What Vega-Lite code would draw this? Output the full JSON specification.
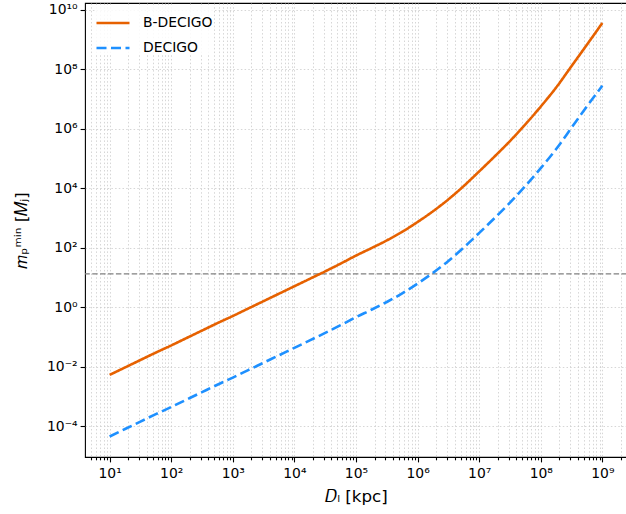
{
  "$schema": "https://vega.github.io/schema/vega-lite/v6.json",
  "width": 542,
  "height": 454,
  "autosize": "none",
  "padding": {"left": 85, "top": 3, "right": 0, "bottom": 57},
  "background": "white",
  "config": {
    "font": "DejaVu Sans",
    "view": {"stroke": "black", "strokeWidth": 1.1},
    "axis": {
      "domain": false,
      "labelFont": "DejaVu Sans",
      "labelFontSize": 13.9,
      "labelColor": "black",
      "titleFont": "DejaVu Sans",
      "titleFontSize": 16.7,
      "titleFontWeight": "normal",
      "titleColor": "black",
      "tickColor": "black",
      "tickWidth": 1.1,
      "gridColor": "#cbcbcb",
      "gridDash": [1.5, 2.2],
      "gridWidth": 0.8,
      "labelOverlap": false,
      "labelFlush": false
    },
    "legend": {
      "labelFont": "DejaVu Sans",
      "labelFontSize": 13.9,
      "labelColor": "black"
    }
  },
  "layer": [
    {
      "data": {"values": [{"threshold": 13}]},
      "mark": {"type": "rule", "color": "#808080", "strokeWidth": 1.2, "strokeDash": [5.5, 2.4]},
      "encoding": {
        "y": {"field": "threshold", "type": "quantitative", "scale": {"type": "log", "domain": [9.12e-6, 1.66e10]}}
      }
    },
    {
      "data": {
        "values": [
          {"series": "B-DECIGO", "D": 10, "m": 0.005248},
          {"series": "B-DECIGO", "D": 17.783, "m": 0.009333},
          {"series": "B-DECIGO", "D": 31.623, "m": 0.016596},
          {"series": "B-DECIGO", "D": 56.234, "m": 0.029512},
          {"series": "B-DECIGO", "D": 100, "m": 0.051286},
          {"series": "B-DECIGO", "D": 177.83, "m": 0.091201},
          {"series": "B-DECIGO", "D": 316.23, "m": 0.16218},
          {"series": "B-DECIGO", "D": 562.34, "m": 0.2884},
          {"series": "B-DECIGO", "D": 1000, "m": 0.50119},
          {"series": "B-DECIGO", "D": 1778.3, "m": 0.89125},
          {"series": "B-DECIGO", "D": 3162.3, "m": 1.5849},
          {"series": "B-DECIGO", "D": 5623.4, "m": 2.8184},
          {"series": "B-DECIGO", "D": 10000, "m": 5.0119},
          {"series": "B-DECIGO", "D": 17783, "m": 8.9125},
          {"series": "B-DECIGO", "D": 31623, "m": 15.849},
          {"series": "B-DECIGO", "D": 56234, "m": 28.84},
          {"series": "B-DECIGO", "D": 100000, "m": 53.703},
          {"series": "B-DECIGO", "D": 177830, "m": 95.499},
          {"series": "B-DECIGO", "D": 316230, "m": 173.78},
          {"series": "B-DECIGO", "D": 562340, "m": 338.84},
          {"series": "B-DECIGO", "D": 1000000, "m": 724.44},
          {"series": "B-DECIGO", "D": 1778300, "m": 1659.6},
          {"series": "B-DECIGO", "D": 3162300, "m": 4168.7},
          {"series": "B-DECIGO", "D": 5623400, "m": 11749},
          {"series": "B-DECIGO", "D": 10000000, "m": 36308},
          {"series": "B-DECIGO", "D": 17783000, "m": 114815},
          {"series": "B-DECIGO", "D": 31623000, "m": 380189},
          {"series": "B-DECIGO", "D": 56234000, "m": 1380384},
          {"series": "B-DECIGO", "D": 100000000, "m": 5495409},
          {"series": "B-DECIGO", "D": 177830000, "m": 23988329},
          {"series": "B-DECIGO", "D": 316230000, "m": 125892541},
          {"series": "B-DECIGO", "D": 562340000, "m": 660693448},
          {"series": "B-DECIGO", "D": 1000000000, "m": 3548133892},
          {"series": "DECIGO", "D": 10, "m": 4.4668e-5},
          {"series": "DECIGO", "D": 17.783, "m": 7.9433e-5},
          {"series": "DECIGO", "D": 31.623, "m": 1.4125e-4},
          {"series": "DECIGO", "D": 56.234, "m": 2.5119e-4},
          {"series": "DECIGO", "D": 100, "m": 4.3652e-4},
          {"series": "DECIGO", "D": 177.83, "m": 7.7625e-4},
          {"series": "DECIGO", "D": 316.23, "m": 1.3804e-3},
          {"series": "DECIGO", "D": 562.34, "m": 2.4547e-3},
          {"series": "DECIGO", "D": 1000, "m": 4.2658e-3},
          {"series": "DECIGO", "D": 1778.3, "m": 7.5858e-3},
          {"series": "DECIGO", "D": 3162.3, "m": 0.01349},
          {"series": "DECIGO", "D": 5623.4, "m": 0.023988},
          {"series": "DECIGO", "D": 10000, "m": 0.042658},
          {"series": "DECIGO", "D": 17783, "m": 0.075858},
          {"series": "DECIGO", "D": 31623, "m": 0.1349},
          {"series": "DECIGO", "D": 56234, "m": 0.24547},
          {"series": "DECIGO", "D": 100000, "m": 0.45709},
          {"series": "DECIGO", "D": 177830, "m": 0.81283},
          {"series": "DECIGO", "D": 316230, "m": 1.4791},
          {"series": "DECIGO", "D": 562340, "m": 2.884},
          {"series": "DECIGO", "D": 1000000, "m": 6.166},
          {"series": "DECIGO", "D": 1778300, "m": 14.125},
          {"series": "DECIGO", "D": 3162300, "m": 35.481},
          {"series": "DECIGO", "D": 5623400, "m": 100},
          {"series": "DECIGO", "D": 10000000, "m": 309.03},
          {"series": "DECIGO", "D": 17783000, "m": 977.24},
          {"series": "DECIGO", "D": 31623000, "m": 3235.9},
          {"series": "DECIGO", "D": 56234000, "m": 11749},
          {"series": "DECIGO", "D": 100000000, "m": 46774},
          {"series": "DECIGO", "D": 177830000, "m": 204174},
          {"series": "DECIGO", "D": 316230000, "m": 1071519},
          {"series": "DECIGO", "D": 562340000, "m": 5623413},
          {"series": "DECIGO", "D": 1000000000, "m": 27542287}
        ]
      },
      "mark": {"type": "line", "strokeWidth": 2.6, "interpolate": "monotone"},
      "encoding": {
        "x": {
          "field": "D",
          "type": "quantitative",
          "scale": {"type": "log", "domain": [3.981, 2.512e9]},
          "axis": {
            "title": "𝐷ₗ [kpc]",
            "titlePadding": 8,
            "labelPadding": 5,
            "grid": true,
            "values": [5, 6, 7, 8, 9, 10, 20, 30, 40, 50, 60, 70, 80, 90, 100, 200, 300, 400, 500, 600, 700, 800, 900, 1000, 2000, 3000, 4000, 5000, 6000, 7000, 8000, 9000, 10000, 20000, 30000, 40000, 50000, 60000, 70000, 80000, 90000, 100000, 200000, 300000, 400000, 500000, 600000, 700000, 800000, 900000, 1000000, 2000000, 3000000, 4000000, 5000000, 6000000, 7000000, 8000000, 9000000, 10000000, 20000000, 30000000, 40000000, 50000000, 60000000, 70000000, 80000000, 90000000, 100000000, 200000000, 300000000, 400000000, 500000000, 600000000, 700000000, 800000000, 900000000, 1000000000, 2000000000],
            "tickSize": {"condition": {"test": "abs(log(datum.value)/LN10 - round(log(datum.value)/LN10)) < 0.001", "value": 4.9}, "value": 2.8},
            "labelExpr": "abs(log(datum.value)/LN10 - round(log(datum.value)/LN10)) < 0.001 ? '10' + substring('⁰¹²³⁴⁵⁶⁷⁸⁹', round(log(datum.value)/LN10), round(log(datum.value)/LN10) + 1) : ''"
          }
        },
        "y": {
          "field": "m",
          "type": "quantitative",
          "scale": {"type": "log", "domain": [9.12e-6, 1.66e10]},
          "axis": {
            "title": "𝑚ₚᵐⁱⁿ [𝑀ⱼ]",
            "titlePadding": 16,
            "labelPadding": 3,
            "tickSize": 4.9,
            "grid": true,
            "values": [0.0001, 0.01, 1, 100, 10000, 1000000, 100000000, 10000000000],
            "labelExpr": "'10' + (round(log(datum.value)/LN10) < 0 ? '⁻' : '') + (abs(round(log(datum.value)/LN10)) >= 10 ? '¹' + substring('⁰¹²³⁴⁵⁶⁷⁸⁹', abs(round(log(datum.value)/LN10)) - 10, abs(round(log(datum.value)/LN10)) - 9) : substring('⁰¹²³⁴⁵⁶⁷⁸⁹', abs(round(log(datum.value)/LN10)), abs(round(log(datum.value)/LN10)) + 1))"
          }
        },
        "color": {
          "field": "series",
          "type": "nominal",
          "scale": {"domain": ["B-DECIGO", "DECIGO"], "range": ["#e66100", "#1e90ff"]},
          "legend": {
            "title": null,
            "orient": "none",
            "legendX": 10,
            "legendY": 2,
            "padding": 0,
            "symbolType": "stroke",
            "symbolSize": 1089,
            "symbolStrokeWidth": 2.6,
            "labelOffset": 12,
            "rowPadding": -3,
            "fillColor": "rgba(255,255,255,0.85)"
          }
        },
        "strokeDash": {
          "field": "series",
          "type": "nominal",
          "scale": {"domain": ["B-DECIGO", "DECIGO"], "range": [[1, 0], [10, 4.5]]},
          "legend": {
            "title": null,
            "orient": "none",
            "legendX": 10,
            "legendY": 2,
            "padding": 0,
            "symbolType": "stroke",
            "symbolSize": 1089,
            "symbolStrokeWidth": 2.6,
            "labelOffset": 12,
            "rowPadding": -3,
            "fillColor": "rgba(255,255,255,0.85)"
          }
        }
      }
    }
  ]
}
